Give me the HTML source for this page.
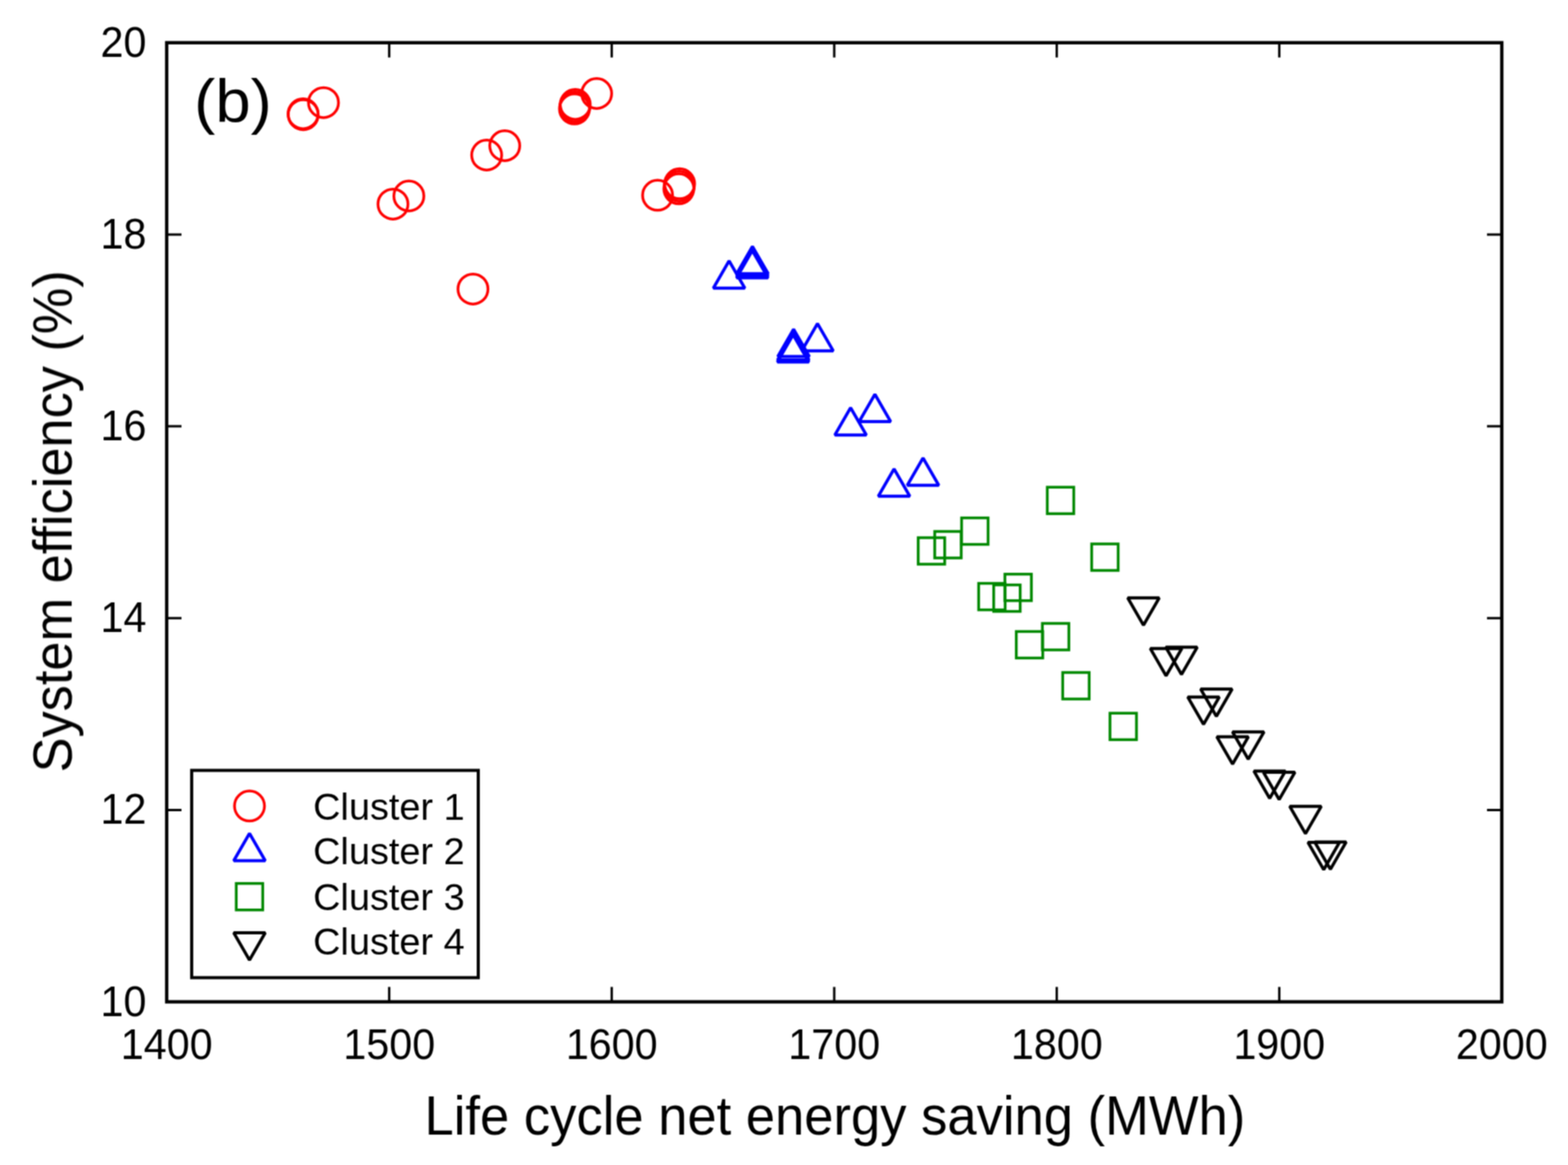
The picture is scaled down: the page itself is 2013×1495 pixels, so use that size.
<!DOCTYPE html><html><head><meta charset="utf-8"><title>System efficiency vs life cycle net energy saving</title>
<style>html,body{margin:0;padding:0;background:#fff;}svg{display:block;}text{font-family:"Liberation Sans",Arial,Helvetica,sans-serif;fill:#000;}</style></head><body>
<svg width="2013" height="1495" viewBox="0 0 2013 1495">
<defs><filter id="soft" filterUnits="userSpaceOnUse" x="0" y="0" width="2013" height="1495" color-interpolation-filters="sRGB"><feConvolveMatrix order="3" kernelMatrix="1 2 1 2 4 2 1 2 1" divisor="16" edgeMode="duplicate"/></filter></defs>
<rect width="2013" height="1495" fill="#fff"/>
<g filter="url(#soft)">
<g fill="none" stroke="#ff0000" stroke-width="3.5">
<circle cx="389.1" cy="146" r="19.25"/>
<circle cx="389.3" cy="147.2" r="19.25"/>
<circle cx="415.3" cy="131.7" r="19.25"/>
<circle cx="504.5" cy="261.9" r="19.25"/>
<circle cx="524.9" cy="251.5" r="19.25"/>
<circle cx="624.8" cy="199" r="19.25"/>
<circle cx="648" cy="187" r="19.25"/>
<circle cx="738.5" cy="134" r="19.25"/>
<circle cx="738" cy="137" r="19.25"/>
<circle cx="737.5" cy="139.8" r="19.25"/>
<circle cx="766" cy="120" r="19.25"/>
<circle cx="844.2" cy="250.6" r="19.25"/>
<circle cx="872.5" cy="235.8" r="19.25"/>
<circle cx="872" cy="239" r="19.25"/>
<circle cx="871.5" cy="242.3" r="19.25"/>
<circle cx="607.2" cy="370.9" r="19.25"/>
</g>
<g fill="none" stroke="#0000ff" stroke-width="4.0" stroke-linejoin="bevel">
<polygon points="936,334.8 956.2,369.8 915.8,369.8"/>
<polygon points="966,316.3 986.2,351.3 945.8,351.3"/>
<polygon points="965.9,319 986.1,354 945.7,354"/>
<polygon points="965.8,321.5 986,356.5 945.6,356.5"/>
<polygon points="1018.8,422.5 1039,457.5 998.6,457.5"/>
<polygon points="1018.4,427 1038.6,462 998.2,462"/>
<polygon points="1018.2,429.6 1038.4,464.6 998,464.6"/>
<polygon points="1049.5,415.2 1069.7,450.2 1029.3,450.2"/>
<polygon points="1092,523.2 1112.2,558.2 1071.8,558.2"/>
<polygon points="1123.2,506 1143.4,541 1103,541"/>
<polygon points="1147.8,601.7 1168,636.7 1127.6,636.7"/>
<polygon points="1185,587.7 1205.2,622.7 1164.8,622.7"/>
</g>
<g fill="none" stroke="#008800" stroke-width="3.5">
<rect x="1178.8" y="690" width="34" height="34"/>
<rect x="1200" y="682" width="34" height="34"/>
<rect x="1234.5" y="664.6" width="34" height="34"/>
<rect x="1344.5" y="625.2" width="34" height="34"/>
<rect x="1401.5" y="698" width="34" height="34"/>
<rect x="1256.4" y="748.6" width="34" height="34"/>
<rect x="1275.7" y="750.6" width="34" height="34"/>
<rect x="1290.1" y="736.8" width="34" height="34"/>
<rect x="1304.7" y="810.4" width="34" height="34"/>
<rect x="1338.2" y="800" width="34" height="34"/>
<rect x="1364.3" y="863" width="34" height="34"/>
<rect x="1425" y="915.2" width="34" height="34"/>
</g>
<g fill="none" stroke="#000" stroke-width="4.0" stroke-linejoin="bevel">
<polygon points="1468,802.3 1488.2,767.3 1447.8,767.3"/>
<polygon points="1497,867.2 1517.2,832.2 1476.8,832.2"/>
<polygon points="1516.8,865.6 1537,830.6 1496.6,830.6"/>
<polygon points="1545.1,929.5 1565.3,894.5 1524.9,894.5"/>
<polygon points="1561.6,919.3 1581.8,884.3 1541.4,884.3"/>
<polygon points="1582.4,980.5 1602.6,945.5 1562.2,945.5"/>
<polygon points="1602.5,974.3 1622.7,939.3 1582.3,939.3"/>
<polygon points="1630,1024.6 1650.2,989.6 1609.8,989.6"/>
<polygon points="1642.2,1025.9 1662.4,990.9 1622,990.9"/>
<polygon points="1676,1069.8 1696.2,1034.8 1655.8,1034.8"/>
<polygon points="1699.4,1116 1719.6,1081 1679.2,1081"/>
<polygon points="1708,1115.5 1728.2,1080.5 1687.8,1080.5"/>
</g>
<rect x="214" y="54.8" width="1714" height="1230.8" fill="none" stroke="#000" stroke-width="4.3"/>
<path d="M499.67 1285.6V1266.6M499.67 54.8V73.8M785.33 1285.6V1266.6M785.33 54.8V73.8M1071 1285.6V1266.6M1071 54.8V73.8M1356.67 1285.6V1266.6M1356.67 54.8V73.8M1642.33 1285.6V1266.6M1642.33 54.8V73.8M214 1039.44H233M1928 1039.44H1909M214 793.28H233M1928 793.28H1909M214 547.12H233M1928 547.12H1909M214 300.96H233M1928 300.96H1909" stroke="#000" stroke-width="3" fill="none"/>
<text transform="translate(214 1359.3) scale(1 1.04)" font-size="53" text-anchor="middle">1400</text>
<text transform="translate(499.67 1359.3) scale(1 1.04)" font-size="53" text-anchor="middle">1500</text>
<text transform="translate(785.33 1359.3) scale(1 1.04)" font-size="53" text-anchor="middle">1600</text>
<text transform="translate(1071 1359.3) scale(1 1.04)" font-size="53" text-anchor="middle">1700</text>
<text transform="translate(1356.67 1359.3) scale(1 1.04)" font-size="53" text-anchor="middle">1800</text>
<text transform="translate(1642.33 1359.3) scale(1 1.04)" font-size="53" text-anchor="middle">1900</text>
<text transform="translate(1928 1359.3) scale(1 1.04)" font-size="53" text-anchor="middle">2000</text>
<text transform="translate(188 1303.6) scale(1 1.04)" font-size="53" text-anchor="end">10</text>
<text transform="translate(188 1057.44) scale(1 1.04)" font-size="53" text-anchor="end">12</text>
<text transform="translate(188 811.28) scale(1 1.04)" font-size="53" text-anchor="end">14</text>
<text transform="translate(188 565.12) scale(1 1.04)" font-size="53" text-anchor="end">16</text>
<text transform="translate(188 318.96) scale(1 1.04)" font-size="53" text-anchor="end">18</text>
<text transform="translate(188 72.8) scale(1 1.04)" font-size="53" text-anchor="end">20</text>
<text transform="translate(1071.8 1456) scale(0.964 1)" font-size="70" text-anchor="middle">Life cycle net energy saving (MWh)</text>
<text transform="translate(92 669) rotate(-90) scale(0.9596 1)" font-size="70" text-anchor="middle">System efficiency (%)</text>
<text transform="translate(249.3 156.8) scale(1.05 1)" font-size="77.5">(b)</text>
<rect x="246.1" y="988.6" width="367.9" height="266" fill="#fff" stroke="#000" stroke-width="4"/>
<circle cx="320.3" cy="1034.3" r="19.25" fill="none" stroke="#ff0000" stroke-width="3.5"/>
<polygon points="320.3,1069.5 340.5,1104.5 300.1,1104.5" fill="none" stroke="#0000ff" stroke-width="4.0" stroke-linejoin="bevel"/>
<rect fill="none" stroke="#008800" stroke-width="3.5" x="303.3" y="1133.7" width="34" height="34"/>
<polygon points="320.3,1232 340.5,1197 300.1,1197" fill="none" stroke="#000" stroke-width="4.0" stroke-linejoin="bevel"/>
<text transform="translate(402 1051.8) scale(0.992 1)" font-size="49">Cluster 1</text>
<text transform="translate(402 1109) scale(0.992 1)" font-size="49">Cluster 2</text>
<text transform="translate(402 1168) scale(0.992 1)" font-size="49">Cluster 3</text>
<text transform="translate(402 1225) scale(0.992 1)" font-size="49">Cluster 4</text>
</g></svg></body></html>
